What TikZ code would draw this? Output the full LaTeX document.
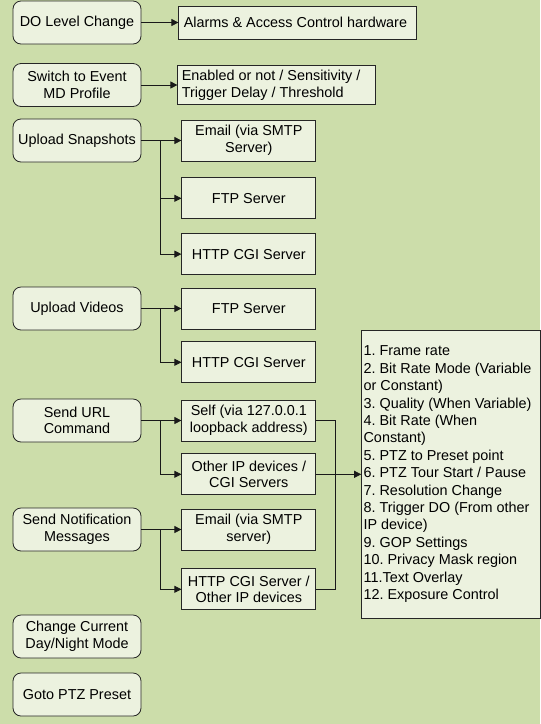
\documentclass[tikz,border=0pt]{standalone}
\usepackage{fontspec}
\setmainfont{Liberation Sans}
\usetikzlibrary{positioning, arrows.meta}
\definecolor{bggreen}{RGB}{204,221,170}
\definecolor{boxfill}{RGB}{236,242,223}
\frenchspacing
\tikzset{
>={Triangle[length=7pt,width=7pt]}, % filled arrow heads
every node/.style={font=\fontsize{14.4pt}{16.6pt}\selectfont}, % Arial-like text
event/.style={draw=black!85, line width=0.8pt, fill=boxfill, rounded corners=8pt, minimum width=128pt, minimum height=43pt, align=center}, % left column
action/.style={draw=black!85, line width=0.8pt, fill=boxfill, minimum width=134pt, minimum height=41pt, align=center, inner sep=2pt}, % right boxes
wire/.style={line width=0.8pt, black!90}, % connectors
}

\begin{document}
\begin{tikzpicture}[x=1pt, y=-1pt]
        \fill[bggreen] (0,0) rectangle (540,724);

        \node[event] (do) at (77,22.5) {DO Level Change};
        \node[event] (md) at (77,85) {Switch to Event\\MD Profile};
        \node[event] (snap) at (77,140.5) {Upload Snapshots};
        \node[event] (vid) at (77,308.5) {Upload Videos};
        \node[event] (url) at (77,420.5) {Send URL\\Command};
        \node[event] (notif) at (77,529.5) {Send Notification\\Messages};
        \node[event] (day) at (77,636.5) {Change Current\\Day/Night Mode};
        \node[event] (ptz) at (77,694.5) {Goto PTZ Preset};

        \node[action, right=37pt of do, text width=228pt, minimum height=33pt, inner xsep=5pt, align=flush left] (alarm) {Alarms \& Access Control hardware};
        \node[action, right=36pt of md, text width=190pt, minimum height=39pt, inner xsep=4pt, align=flush left] (mdset) {Enabled or not / Sensitivity /\\Trigger Delay / Threshold};

        \node[action, right=40pt of snap] (snapmail) {Email (via SMTP\\Server)};
        \node[action, below=16pt of snapmail] (snapftp) {FTP Server};
        \node[action, below=14pt of snapftp] (snaphttp) {HTTP CGI Server};

        \node[action, right=40pt of vid] (vidftp) {FTP Server};
        \node[action, below=12pt of vidftp] (vidhttp) {HTTP CGI Server};

        \node[action, right=40pt of url] (self) {Self (via 127.0.0.1\\loopback address)};
        \node[action, below=12pt of self] (other) {Other IP devices /\\CGI Servers};

        \node[action, right=40pt of notif] (mail) {Email (via SMTP\\server)};
        \node[action, below=18pt of mail] (cgi) {HTTP CGI Server /\\Other IP devices};

        \node[action, right=45pt of other, minimum width=179pt, minimum height=288pt, text width=175pt, inner xsep=2pt, align=flush left, font=\fontsize{14.4pt}{17.4pt}\selectfont] (list) {1. Frame rate\\2. Bit Rate Mode (Variable\\or Constant)\\3. Quality (When Variable)\\4. Bit Rate (When\\Constant)\\5. PTZ to Preset point\\6. PTZ Tour Start / Pause\\7. Resolution Change\\8. Trigger DO (From other\\IP device)\\9. GOP Settings\\10. Privacy Mask region\\11.Text Overlay\\12. Exposure Control};

        \draw[wire, ->] (do) -- (alarm);
        \draw[wire, ->] (md) -- (mdset);

        \draw[wire, ->] (snap) -- (snapmail);
        \draw[wire, ->] (snap.east) -- ++(19pt,0) |- (snapftp);
        \draw[wire, ->] (snap.east) -- ++(19pt,0) |- (snaphttp);

        \draw[wire, ->] (vid) -- (vidftp);
        \draw[wire, ->] (vid.east) -- ++(19pt,0) |- (vidhttp);

        \draw[wire, ->] (url) -- (self);
        \draw[wire, ->] (url.east) -- ++(19pt,0) |- (other);

        \draw[wire, ->] (notif) -- (mail);
        \draw[wire, ->] (notif.east) -- ++(19pt,0) |- (cgi);

        \draw[wire] (self.east) -- ++(19pt,0) |- (cgi.east);
        \draw[wire, ->] (other) -- (list);
    \end{tikzpicture}
\end{document}
